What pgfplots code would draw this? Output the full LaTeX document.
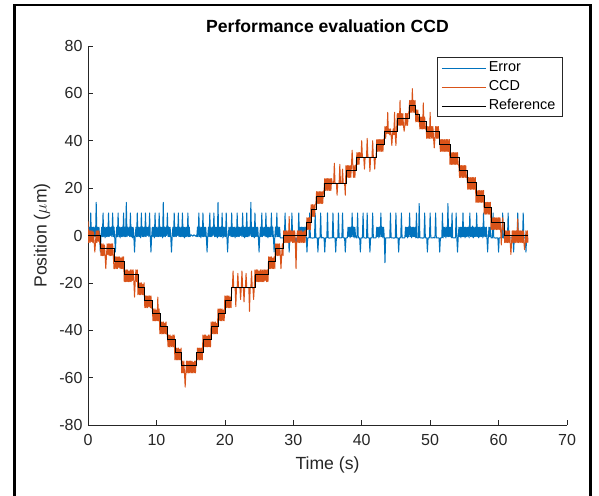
\documentclass[border=0pt]{standalone}
\usepackage{fontspec}
\setmainfont{Liberation Sans}
\usepackage{pgfplots}
\pgfplotsset{compat=1.18}
\usepackage{pgfplotstable}
\definecolor{mblue}{rgb}{0,0.447,0.741}
\definecolor{morange}{rgb}{0.850,0.325,0.098}
\definecolor{axgray}{rgb}{0.15,0.15,0.15}

% t = time (s), c = CCD position, e = error (um)
\pgfplotstableread{
t c e
0.0 6 3.5
0.1 -3 -0.5
0.2 2 3.5
0.3 -3 -0.5
0.4 2 9.5
0.5 -2.5 -0.5
0.6 2 3.5
0.7 -3 -1
0.8 1.5 3.5
0.9 -3 -0.5
1.0 -7 3.5
1.1 -3 -0.5
1.2 2 14
1.3 -3 -0.5
1.4 2 3.5
1.5 -2.5 0
1.6 2 3.5
1.7 -3 -0.5
1.8 -3.5 -7
1.9 -8.5 -0.5
2.0 -3.5 3.5
2.1 -8.5 -0.5
2.2 -3.5 9.5
2.3 -8.5 -0.5
2.4 -4 3.5
2.5 -8.5 -1
2.6 -14 3.5
2.7 -8.5 -0.5
2.8 -3.5 3.5
2.9 -8 -0.5
3.0 -3.5 9.5
3.1 -8.5 -0.5
3.2 -3.5 3.5
3.3 -8.5 0
3.4 -3.5 3.5
3.5 -8.5 -0.5
3.6 -3.5 9.5
3.7 -8.5 -0.5
3.8 -14 3.5
3.9 -14 -0.5
4.0 -9 -7
4.1 -14 -0.5
4.2 -9 3.5
4.3 -14 -0.5
4.4 -9 9.5
4.5 -13.5 -0.5
4.6 -9 3.5
4.7 -14 -1
4.8 -9.5 3.5
4.9 -14 -0.5
5.0 -9 3.5
5.1 -14 -0.5
5.2 -9 9.5
5.3 -19.5 -0.5
5.4 -14.5 3.5
5.5 -19.5 -0.5
5.6 -14.5 14
5.7 -19.5 -0.5
5.8 -14.5 3.5
5.9 -19.5 0
6.0 -15 3.5
6.1 -19.5 -0.5
6.2 -14.5 9.5
6.3 -19.5 -0.5
6.4 -14.5 3.5
6.5 -19 -1
6.6 -14.5 3.5
6.7 -19.5 -0.5
6.8 -26 -7
6.9 -19.5 -0.5
7.0 -14.5 3.5
7.1 -19.5 -0.5
7.2 -14.5 9.5
7.3 -25 -0.5
7.4 -20 3.5
7.5 -25 -0.5
7.6 -20 3.5
7.7 -25 -1
7.8 -20 9.5
7.9 -25 -0.5
8.0 -20.5 3.5
8.1 -25 -0.5
8.2 -20 3.5
8.3 -30.5 -0.5
8.4 -25.5 9.5
8.5 -30.5 -0.5
8.6 -25.5 3.5
8.7 -30.5 0
8.8 -25.5 3.5
8.9 -30 -0.5
9.0 -25.5 9.5
9.1 -30.5 -0.5
9.2 -25.5 -7
9.3 -30.5 -0.5
9.4 -31 3.5
9.5 -36 -0.5
9.6 -31 3.5
9.7 -36 -1
9.8 -31 9.5
9.9 -36 -0.5
10.0 -31.5 3.5
10.1 -36 -0.5
10.2 -26 3.5
10.3 -36 -0.5
10.4 -31 9.5
10.5 -41.5 -0.5
10.6 -36.5 3.5
10.7 -41.5 -0.5
10.8 -36.5 3.5
10.9 -41.5 -1
11.0 -36.5 14
11.1 -41.5 -0.5
11.2 -37 3.5
11.3 -41.5 -0.5
11.4 -36.5 3.5
11.5 -41.5 0
11.6 -42 9.5
11.7 -47 -0.5
11.8 -42 3.5
11.9 -47 -0.5
12.0 -42 3.5
12.1 -47 -1
12.2 -42.5 -7
12.3 -47 -0.5
12.4 -42 3.5
12.5 -47 -0.5
12.6 -42 9.5
12.7 -52.5 -0.5
12.8 -47.5 3.5
12.9 -52.5 -0.5
13.0 -47.5 3.5
13.1 -52.5 0
13.2 -47.5 9.5
13.3 -52.5 -0.5
13.4 -48 3.5
13.5 -52.5 -0.5
13.6 -47.5 3.5
13.7 -58 -0.5
13.8 -53 9.5
13.9 -58 -0.5
14.0 -53 3.5
14.1 -58 -1
14.2 -64 3.5
14.3 -58 -0.5
14.4 -53 3.5
14.5 -58 -0.5
14.6 -53 9.5
14.7 -58 -0.5
14.8 -53 3.5
14.9 -58 -0.5
15.0 -53 0
15.1 -58 0.3
15.2 -53 0
15.3 -58 -0.3
15.4 -53.5 0
15.5 -58 0.3
15.6 -53 0
15.7 -58 -0.3
15.8 -53 0
15.9 -52.5 -0.5
16.0 -47.5 3.5
16.1 -52.5 -0.5
16.2 -47.5 9.5
16.3 -52.5 -0.5
16.4 -47.5 3.5
16.5 -52.5 -1
16.6 -47.5 3.5
16.7 -52.5 -0.5
16.8 -42 9.5
16.9 -47 -0.5
17.0 -42 3.5
17.1 -47 -0.5
17.2 -42 3.5
17.3 -47 -1
17.4 -42.5 -7
17.5 -47 -0.5
17.6 -42 3.5
17.7 -47 -0.5
17.8 -42 9.5
17.9 -47 -0.5
18.0 -36.5 3.5
18.1 -41.5 -0.5
18.2 -36.5 3.5
18.3 -41.5 0
18.4 -36.5 9.5
18.5 -41.5 -0.5
18.6 -36.5 3.5
18.7 -41.5 -0.5
18.8 -37 3.5
18.9 -41.5 -1
19.0 -31 14
19.1 -36 -0.5
19.2 -31 3.5
19.3 -36 -0.5
19.4 -31 3.5
19.5 -36 -0.5
19.6 -31 9.5
19.7 -36 -1
19.8 -31.5 3.5
19.9 -36 -0.5
20.0 -25.5 3.5
20.1 -30.5 -0.5
20.2 -25.5 9.5
20.3 -30.5 -0.5
20.4 -25.5 -7
20.5 -30.5 -0.5
20.6 -25.5 3.5
20.7 -30.5 0
20.8 -26 3.5
20.9 -30.5 -0.5
21.0 -22 9.5
21.1 -22 -0.5
21.2 -15 3.5
21.3 -22 -0.5
21.4 -22 3.5
21.5 -22 -1
21.6 -30 3.5
21.7 -22 -0.5
21.8 -22 9.5
21.9 -16 -0.5
22.0 -22 3.5
22.1 -22 -0.5
22.2 -22 3.5
22.3 -27 0
22.4 -22 3.5
22.5 -15 -0.5
22.6 -22 9.5
22.7 -22 -0.5
22.8 -28 3.5
22.9 -22 -1
23.0 -22 3.5
23.1 -16 -0.5
23.2 -22 9.5
23.3 -22 -0.5
23.4 -22 3.5
23.5 -22 -0.5
23.6 -32 3.5
23.7 -22 0
23.8 -22 14
23.9 -15 -0.5
24.0 -22 3.5
24.1 -22 -0.5
24.2 -27 3.5
24.3 -22 -1
24.4 -14.5 9.5
24.5 -19.5 -0.5
24.6 -14.5 3.5
24.7 -19.5 -0.5
24.8 -14.5 3.5
24.9 -19.5 -1
25.0 -15 -7
25.1 -19.5 -0.5
25.2 -14.5 3.5
25.3 -19.5 -0.5
25.4 -14.5 9.5
25.5 -19.5 -0.5
25.6 -14.5 3.5
25.7 -19.5 0
25.8 -14.5 3.5
25.9 -19 -0.5
26.0 -14.5 9.5
26.1 -19.5 -0.5
26.2 -14.5 3.5
26.3 -19.5 -1
26.4 -9 3.5
26.5 -14 -0.5
26.6 -9 3.5
26.7 -14 -0.5
26.8 -9 9.5
26.9 -14 -0.5
27.0 -9.5 3.5
27.1 -14 -1
27.2 -9 -7
27.3 -14 -0.5
27.4 -3.5 3.5
27.5 -8.5 -0.5
27.6 -3.5 9.5
27.7 -8.5 -0.5
27.8 -3.5 3.5
27.9 -8.5 -0.5
28.0 -3.5 3.5
28.1 -8.5 -1
28.2 -14 -1
28.3 -8.5 -1
28.4 -3.5 -1
28.5 -8.5 -1
28.6 2 -1
28.7 -3 -1
28.8 2 9.5
28.9 -3 -1
29.0 2 -1
29.1 -3 -1.2
29.2 2 -1
29.3 -3 -1
29.4 8 -7
29.5 -3 -1
29.6 2 -1
29.7 -2.5 -1
29.8 2 9.5
29.9 -3 -1
30.0 2 -1
30.1 -3 -0.8
30.2 2 -1
30.3 -3 -1
30.4 -14 -7
30.5 -3 -1
30.6 2 -1
30.7 -3 -1
30.8 2 9.5
30.9 -3 -1
31.0 2 3.5
31.1 -3 -0.5
31.2 2 3.5
31.3 -3 -0.5
31.4 1.5 3.5
31.5 -3 -0.5
31.6 2 3.5
31.7 -3 -1
31.8 2 3.5
31.9 2.5 -1
32.0 7.5 -7
32.1 2.5 -1
32.2 7.5 -1
32.3 2.5 -1
32.4 7.5 9.5
32.5 2.5 -1
32.6 13 -1
32.7 8 -1
32.8 13 -1.2
32.9 8 -1
33.0 13 -1
33.1 8 -1
33.2 13 9.5
33.3 13.5 -1
33.4 18.5 -1
33.5 13.5 -1
33.6 18.5 -7
33.7 13.5 -1
33.8 18.5 -1
33.9 13.5 -1
34.0 18.5 9.5
34.1 13.5 -1
34.2 18.5 -1
34.3 13.5 -0.8
34.4 18.5 -1
34.5 19 -1
34.6 24 -7
34.7 19 -1
34.8 24 -1
34.9 19 -1
35.0 24 9.5
35.1 19 -1
35.2 24 -1
35.3 19 -1.2
35.4 24 -1
35.5 19 -1
35.6 24 -1
35.7 22 -1
35.8 22 9.5
35.9 22 -1
36.0 30.5 -1
36.1 22 -1
36.2 22 -7
36.3 22 -1
36.4 17 -1
36.5 22 -1
36.6 22 9.5
36.7 22 -1
36.8 30 -1
36.9 22 -1
37.0 22 -1
37.1 22 -0.8
37.2 28 9.5
37.3 22 -1
37.4 22 -1
37.5 22 -1
37.6 17 -7
37.7 29.5 -1
37.8 24.5 -1
37.9 29.5 -1
38.0 24.5 3.5
38.1 29.5 -0.5
38.2 24.5 3.5
38.3 29.5 -1
38.4 24.5 3.5
38.5 29.5 -0.5
38.6 36 9.5
38.7 29.5 -0.5
38.8 24.5 3.5
38.9 29.5 -1
39.0 24.5 3.5
39.1 29.5 -0.5
39.2 30 -1
39.3 35 -1
39.4 30 9.5
39.5 35 -1
39.6 30 -1
39.7 35 -1
39.8 33 -7
39.9 33 -1
40.0 40 -1
40.1 33 -1
40.2 33 9.5
40.3 33 -1
40.4 28 -1
40.5 33 -1
40.6 33 -1.2
40.7 33 -1
40.8 41 9.5
40.9 33 -1
41.0 33 -1
41.1 33 -1
41.2 27 -7
41.3 33 -1
41.4 33 -1
41.5 33 -1
41.6 40 9.5
41.7 33 -1
41.8 33 -1
41.9 28 -1
42.0 33 -1
42.1 33 -1
42.2 40.5 3.5
42.3 35.5 -0.5
42.4 40.5 3.5
42.5 35.5 -1
42.6 40.5 3.5
42.7 35.5 -0.5
42.8 40.5 9.5
42.9 35.5 -0.5
43.0 40.5 3.5
43.1 35.5 -1
43.2 40.5 3.5
43.3 41 -1
43.4 46 -11.5
43.5 41 -1
43.6 46 -1
43.7 43 -1
43.8 52 -1
43.9 43 -1
44.0 45 -1
44.1 42.5 -1
44.2 45 9.5
44.3 42.5 -1
44.4 38 -1
44.5 42.5 -1
44.6 45 -1
44.7 42.5 -1.2
44.8 52 -1
44.9 42.5 -1
45.0 38 9.5
45.1 45 -1
45.2 51.5 -1
45.3 46.5 -1
45.4 51.5 -7
45.5 46.5 -1
45.6 57 -1
45.7 46.5 -1
45.8 51.5 9.5
45.9 46.5 -1
46.0 51.5 -1
46.1 46.5 -1
46.2 44 -1
46.3 46.5 -1
46.4 51.5 3.5
46.5 46.5 -0.5
46.6 51.5 3.5
46.7 46.5 -1
46.8 51.5 3.5
46.9 52 -0.5
47.0 57 9.5
47.1 52 -0.5
47.2 57 3.5
47.3 52 -1
47.4 62 3.5
47.5 52 -0.5
47.6 57 3.5
47.7 52 -0.5
47.8 57 3.5
47.9 48 -1
48.0 53 9.5
48.1 48 -1
48.2 53 -1
48.3 48 -1
48.4 50 13.5
48.5 45 -1
48.6 50 -1
48.7 45 -1
48.8 50 -1
48.9 45 -1.2
49.0 56 -1
49.1 45 -1
49.2 50 9.5
49.3 45 -1
49.4 46 -1
49.5 41 -1
49.6 46 -7
49.7 41 -1
49.8 46 -1
49.9 41 -1
50.0 52 9.5
50.1 41 -1
50.2 46 -1
50.3 41 -1
50.4 46 -1
50.5 41 -0.8
50.6 37 -1
50.7 41 -1
50.8 46 9.5
50.9 41 -1
51.0 46 -1
51.1 41 -1
51.2 46 -1
51.3 41 -1
51.4 40.5 -7
51.5 35.5 -1
51.6 40.5 -1
51.7 35.5 -1
51.8 40.5 9.5
51.9 35.5 -1
52.0 40.5 3.5
52.1 35.5 -0.5
52.2 40.5 3.5
52.3 35.5 -1
52.4 40.5 3.5
52.5 35.5 -0.5
52.6 40.5 13.5
52.7 35.5 -0.5
52.8 40.5 3.5
52.9 30 -0.5
53.0 35 3.5
53.1 30 -1
53.2 35 9.5
53.3 30 -1
53.4 35 -1
53.5 30 -1
53.6 35 -1
53.7 30 -1
53.8 35 9.5
53.9 30 -1
54.0 35 -7
54.1 30 -1
54.2 29.5 3.5
54.3 24.5 -0.5
54.4 29.5 3.5
54.5 24.5 -1
54.6 29.5 3.5
54.7 24.5 -0.5
54.8 29.5 9.5
54.9 24.5 -0.5
55.0 29.5 3.5
55.1 24.5 -1
55.2 29.5 3.5
55.3 24.5 -0.5
55.4 24.5 3.5
55.5 19.5 -0.5
55.6 24.5 3.5
55.7 19.5 -1
55.8 24.5 9.5
55.9 19.5 -0.5
56.0 24.5 3.5
56.1 19.5 -0.5
56.2 24.5 4
56.3 19.5 -1
56.4 24.5 3.5
56.5 19.5 -0.5
56.6 24.5 3.5
56.7 14 -0.5
56.8 19 9.5
56.9 14 -0.5
57.0 19 3.5
57.1 14 -1
57.2 19 3.5
57.3 14 -0.5
57.4 19 3.5
57.5 14 -0.5
57.6 19 3.5
57.7 14 -1
57.8 19 9.5
57.9 9 -0.5
58.0 14 3.5
58.1 9 -0.5
58.2 14 3.5
58.3 9 -1
58.4 14 -7
58.5 9 -0.5
58.6 14 3.5
58.7 9 -0.5
58.8 14 3.5
58.9 2.5 -1
59.0 7.5 -1
59.1 2.5 -1
59.2 7.5 9.5
59.3 2.5 -1
59.4 7.5 -1
59.5 2.5 -1
59.6 7.5 -1.2
59.7 2.5 -1
59.8 7.5 -1
59.9 2.5 -1
60.0 7.5 -7
60.1 2.5 -1
60.2 7.5 -1
60.3 2.5 -1
60.4 -4 -1
60.5 2.5 -1
60.6 7.5 9.5
60.7 2.5 -1
60.8 2 -1
60.9 -3 -1
61.0 2 -1
61.1 -3 -1
61.2 2 -1
61.3 -3 -1
61.4 2 9.5
61.5 -3 -1
61.6 2 -1
61.7 -3 -1
61.8 -8 -1
61.9 -3 -1
62.0 2 -1
62.1 -3 -1
62.2 2 -7
62.3 -3 -1
62.4 2 -1
62.5 -3 -1.2
62.6 2 -1
62.7 -3 -1
62.8 7 9.5
62.9 -3 -1
63.0 2 -1
63.1 -3 -1
63.2 2 -1
63.3 -3 -1
63.4 2 -1
63.5 -3 -1
63.6 2 9.5
63.7 -3 -1
63.8 -6 -1
63.9 -3 -1
64.0 2 -7
64.1 -3 -1
64.2 2 -1
64.3 -3 -1
}\datatable

\begin{document}
\begin{tikzpicture}
\useasboundingbox (0,0) rectangle (599pt,495pt);
\fill[white] (0,0) rectangle (599pt,495pt);
\draw[line width=2.6pt] (14.5pt,-2pt) -- (14.5pt,489.8pt) -- (590.5pt,489.8pt) -- (590.5pt,-2pt);
\begin{axis}[
  at={(88pt,70pt)}, anchor=south west,
  scale only axis, width=479pt, height=379pt,
  xmin=0, xmax=70, ymin=-80, ymax=80,
  axis lines=left, axis line style={-, draw=axgray, line width=0.6pt},
  tick align=inside, major tick length=5pt,
  tick style={draw=axgray, line width=0.6pt},
  xtick={0,10,...,70}, ytick={-80,-60,...,80},
  xticklabels={0,10,20,30,40,50,60,70},
  yticklabels={-80,-60,-40,-20,0,20,40,60,80},
  ticklabel style={font=\fontsize{16}{19}\selectfont, text=axgray},
  xticklabel style={yshift=-6pt},
  yticklabel style={xshift=-2pt},
  title={Performance evaluation CCD},
  title style={font=\bfseries\fontsize{17.6}{21}\selectfont, at={(axis description cs:0.5,1.037)}, anchor=center, yshift=0pt},
  xlabel={Time (s)},
  xlabel style={font=\fontsize{17.6}{21}\selectfont, at={(axis description cs:0.5,-0.1055)}, anchor=center, text=axgray},
  ylabel={Position ($\mu$m)},
  ylabel style={font=\fontsize{17.6}{21}\selectfont, at={(axis description cs:-0.096,0.5)}, anchor=center, text=axgray},
  legend style={at={(axis description cs:0.9896,0.971)}, anchor=north east,
    draw=axgray, line width=0.5pt, fill=white,
    font=\fontsize{14.4}{17}\selectfont, inner xsep=4pt, inner ysep=2pt,
    row sep=1.5pt, nodes={inner xsep=2.5pt, inner ysep=2pt, text height=10.5pt, text depth=3pt, text=black}},
  legend cell align=left,
  legend image code/.code={\draw[#1, line width=0.7pt] (0pt,0pt) -- (44pt,0pt);},
]
\addplot[mblue, line width=1pt, line join=round] table[x=t, y=e] {\datatable};
\addplot[morange, line width=1pt, line join=round] table[x=t, y=c] {\datatable};
\addplot[black, line width=0.7pt, const plot] coordinates {
(0,0) (1.8,-5.5) (3.9,-11) (5.3,-16.5) (7.3,-22) (8.3,-27.5) (9.4,-33) (10.5,-38.5)
(11.6,-44) (12.7,-49.5) (13.7,-55) (15.9,-49.5) (16.8,-44) (18.0,-38.5) (19.0,-33)
(20.0,-27.5) (21.0,-22) (24.4,-16.5) (26.4,-11) (27.4,-5.5) (28.6,0) (31.9,5.5)
(32.6,11) (33.3,16.5) (34.5,22) (37.7,27.5) (39.2,33) (42.2,38.5) (43.3,44)
(45.2,49.5) (46.9,55) (47.9,51) (48.4,48) (49.4,44) (51.4,38.5) (52.9,33)
(54.2,27.5) (55.4,22.5) (56.7,17) (57.9,12) (58.9,5.5) (60.8,0) (64.3,0)
};
\legend{Error, CCD, Reference}
\end{axis}
\end{tikzpicture}
\end{document}
